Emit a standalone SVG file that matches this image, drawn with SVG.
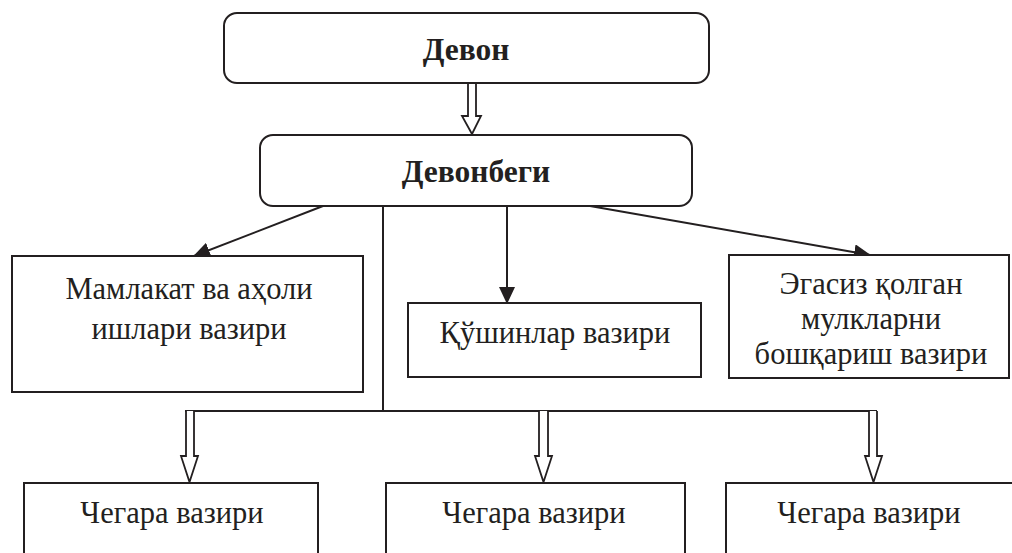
<svg xmlns="http://www.w3.org/2000/svg" width="1012" height="553" viewBox="0 0 1012 553">
<style>
.box{fill:#fff;stroke:#231f20;stroke-width:2}
.t{font-family:"Liberation Serif",serif;font-size:30.5px;fill:#231f20;text-anchor:middle}
.b{font-weight:bold;font-size:31.5px}
.ln{fill:none;stroke:#231f20;stroke-width:2}
.ha{fill:#fff;stroke:#231f20;stroke-width:1.8;stroke-linejoin:miter}
</style>
<defs>
<marker id="ah" markerUnits="userSpaceOnUse" markerWidth="17" markerHeight="16" refX="16" refY="8" orient="auto">
<path d="M0,0 L17,8 L0,16 Z" fill="#231f20"/>
</marker>
</defs>
<rect width="1012" height="553" fill="#fff"/>
<g id="connectors">
<path class="ha" d="M468,83 V116 H462 L472,134 L481,116 H476 V83"/>
<line class="ln" x1="323" y1="206" x2="194" y2="256" marker-end="url(#ah)"/>
<line class="ln" x1="507" y1="206" x2="507" y2="303" marker-end="url(#ah)"/>
<line class="ln" x1="590" y1="206" x2="870" y2="255" marker-end="url(#ah)"/>
<line class="ln" x1="383" y1="206" x2="383" y2="411"/>
<line class="ln" x1="185" y1="411" x2="877" y2="411"/>
<path class="ha" d="M186,411 V456 H181 L189.5,482 L198,456 H194 V411"/>
<path class="ha" d="M539,411 V456 H535 L543.5,482 L552,456 H548 V411"/>
<path class="ha" d="M869,411 V456 H865 L873.5,482 L882,456 H877 V411"/>
</g>
<g id="devon">
<rect class="box" x="224" y="13" width="485" height="70" rx="13"/>
<text class="t b" x="466" y="60">Девон</text>
</g>
<g id="devonbegi">
<rect class="box" x="260" y="135" width="432" height="71" rx="13"/>
<text class="t b" x="476" y="182">Девонбеги</text>
</g>
<g id="mamlakat">
<rect class="box" x="12" y="256" width="351" height="136"/>
<text class="t" x="189" y="299">Мамлакат ва аҳоли</text>
<text class="t" x="189" y="339">ишлари вазири</text>
</g>
<g id="qushinlar">
<rect class="box" x="408" y="303" width="293" height="74"/>
<text class="t" x="555" y="343">Қўшинлар вазири</text>
</g>
<g id="egasiz">
<rect class="box" x="729" y="255" width="280" height="123"/>
<text class="t" x="871" y="294">Эгасиз қолган</text>
<text class="t" x="871" y="329">мулкларни</text>
<text class="t" x="871" y="364">бошқариш вазири</text>
</g>
<g id="chegara1">
<rect class="box" x="24" y="483" width="294" height="90"/>
<text class="t" x="172" y="523">Чегара вазири</text>
</g>
<g id="chegara2">
<rect class="box" x="386" y="483" width="299" height="90"/>
<text class="t" x="534" y="523">Чегара вазири</text>
</g>
<g id="chegara3">
<rect class="box" x="726" y="483" width="300" height="90"/>
<text class="t" x="869" y="523">Чегара вазири</text>
</g>
</svg>
